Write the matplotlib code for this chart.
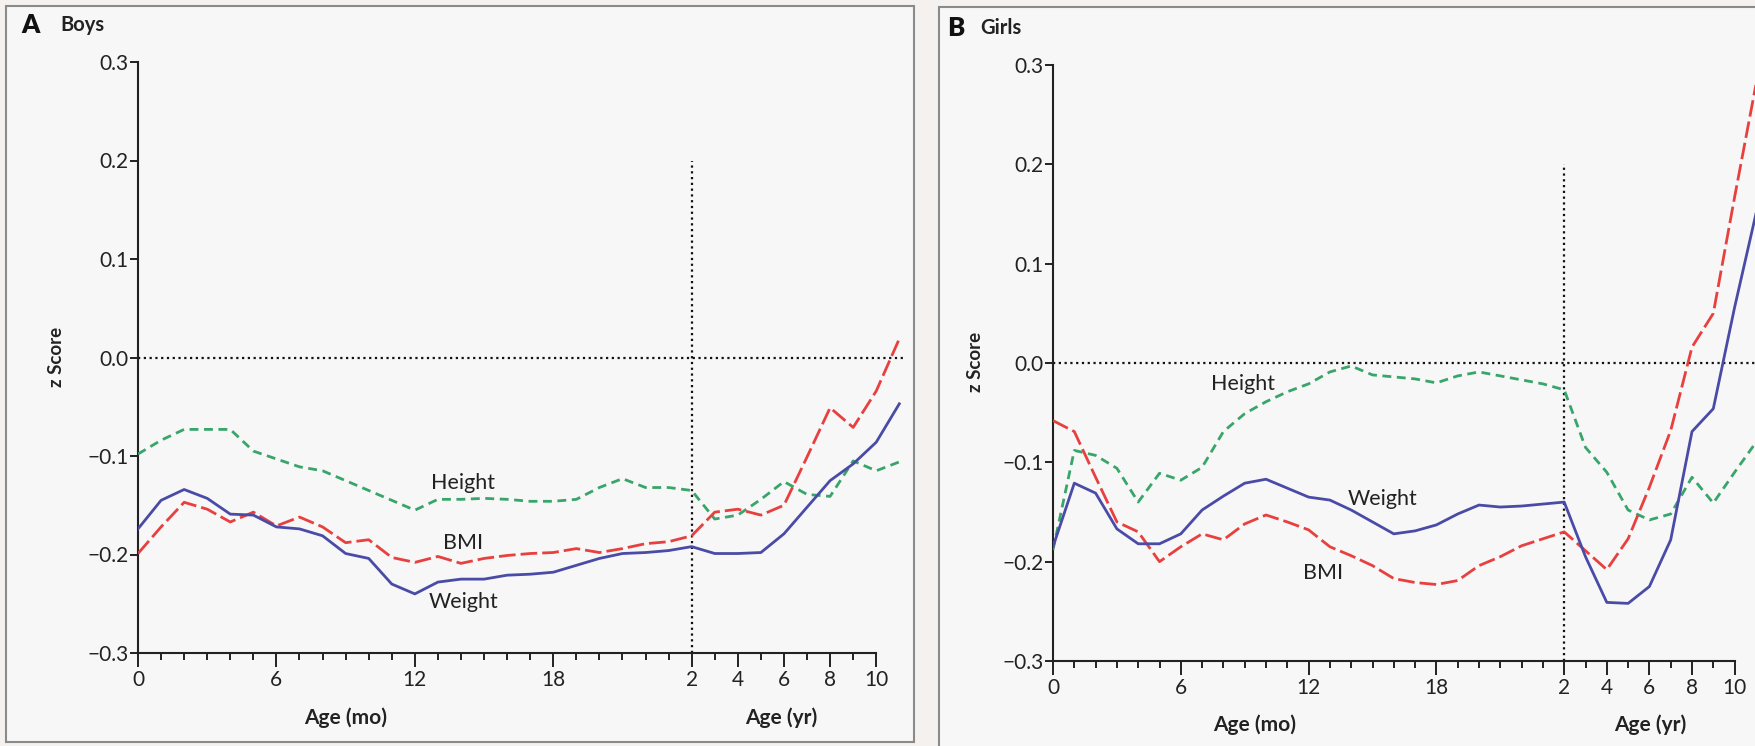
import matplotlib
matplotlib.use("Agg")
import matplotlib.pyplot as plt
from matplotlib.patches import Rectangle

plt.rcParams['font.family'] = ['Lato', 'DejaVu Sans']

W, H = 1756, 746

# x runs 0..24 months, then 3..11 years, one step each
age_months = list(range(25))
age_years = list(range(3, 12))
x_pos = list(range(len(age_months) + len(age_years)))

x_major = [0, 6, 12, 18, 24, 26, 28, 30, 32]
x_labels = ['0', '6', '12', '18', '2', '4', '6', '8', '10']
y_ticks = [-0.3, -0.2, -0.1, 0.0, 0.1, 0.2, 0.3]
y_labels = ['\u22120.3', '\u22120.2', '\u22120.1', '0.0', '0.1', '0.2', '0.3']

boys_weight = [-0.174, -0.145, -0.134, -0.143, -0.159, -0.160, -0.172, -0.174, -0.181,
               -0.199, -0.204, -0.230, -0.240, -0.228, -0.225, -0.225, -0.221, -0.220,
               -0.218, -0.211, -0.204, -0.199, -0.198, -0.196, -0.192,
               -0.199, -0.199, -0.198, -0.179, -0.152, -0.125, -0.108, -0.086, -0.047]
boys_bmi = [-0.199, -0.172, -0.147, -0.154, -0.167, -0.157, -0.171, -0.162, -0.172,
            -0.188, -0.185, -0.203, -0.208, -0.202, -0.209, -0.204, -0.201, -0.199,
            -0.198, -0.194, -0.198, -0.194, -0.189, -0.187, -0.181,
            -0.157, -0.154, -0.160, -0.150, -0.101, -0.051, -0.071, -0.034, 0.019]
boys_height = [-0.098, -0.084, -0.073, -0.073, -0.073, -0.095, -0.103, -0.111, -0.115,
               -0.125, -0.135, -0.145, -0.155, -0.144, -0.144, -0.143, -0.144, -0.146,
               -0.146, -0.144, -0.132, -0.123, -0.132, -0.132, -0.135,
               -0.164, -0.160, -0.144, -0.126, -0.139, -0.141, -0.105, -0.115, -0.106]

girls_weight = [-0.185, -0.121, -0.131, -0.167, -0.182, -0.182, -0.172, -0.148, -0.134,
                -0.121, -0.117, -0.126, -0.135, -0.138, -0.148, -0.160, -0.172, -0.169,
                -0.163, -0.152, -0.143, -0.145, -0.144, -0.142, -0.140,
                -0.195, -0.241, -0.242, -0.225, -0.178, -0.069, -0.046, 0.056, 0.150]
girls_bmi = [-0.058, -0.069, -0.115, -0.160, -0.170, -0.200, -0.185, -0.172, -0.178,
             -0.162, -0.153, -0.160, -0.168, -0.185, -0.194, -0.204, -0.217, -0.221,
             -0.223, -0.219, -0.204, -0.195, -0.184, -0.177, -0.170,
             -0.189, -0.208, -0.177, -0.125, -0.068, 0.016, 0.050, 0.167, 0.280]
girls_height = [-0.188, -0.088, -0.093, -0.106, -0.140, -0.111, -0.118, -0.105, -0.069,
                -0.051, -0.039, -0.029, -0.021, -0.009, -0.003, -0.012, -0.014, -0.016,
                -0.020, -0.013, -0.009, -0.013, -0.017, -0.021, -0.027,
                -0.085, -0.110, -0.148, -0.158, -0.152, -0.115, -0.141, -0.110, -0.080]

BLUE = '#4a4ba6'
RED = '#e8403e'
GREEN = '#38a56a'
INK = '#222222'


def fx(px):
    return px / W


def fy(py):
    return 1 - py / H


fig = plt.figure(figsize=(W / 100, H / 100), dpi=100, facecolor='#f4f1ef')

# panel frames (behind the axes)
fig.patches.append(Rectangle((fx(6), fy(742)), fx(908), 736 / H, transform=fig.transFigure,
                             facecolor='#f7f7f7', edgecolor='#8a8a8a', lw=1.5, zorder=-10))
fig.patches.append(Rectangle((fx(939), fy(760)), fx(900), 753 / H, transform=fig.transFigure,
                             facecolor='#f7f7f7', edgecolor='#8a8a8a', lw=1.5, zorder=-10))


def panel(left, top, bottom, unit, xmax, weight, bmi, height, lab_pos):
    ax = fig.add_axes([fx(left), fy(bottom), fx(xmax * unit), (bottom - top) / H])
    ax.set_facecolor('none')
    ax.set_xlim(0, xmax)
    ax.set_ylim(-0.3, 0.3)
    for s in ['top', 'right']:
        ax.spines[s].set_visible(False)
    ax.spines['bottom'].set_bounds(0, 32)
    for s in ['left', 'bottom']:
        ax.spines[s].set_linewidth(1.5)
        ax.spines[s].set_color(INK)

    ax.axhline(0, color='#111111', lw=1.6, ls=(0, (1, 1.6)), zorder=1)
    ax.plot([24, 24], [-0.3, 0.2], color='#111111', lw=1.6, ls=(0, (1, 1.6)), zorder=1)

    ax.plot(x_pos, height, color=GREEN, lw=2.0, dashes=(3.2, 2.0), zorder=3)
    ax.plot(x_pos, bmi, color=RED, lw=2.0, dashes=(6.0, 1.8), zorder=3)
    ax.plot(x_pos, weight, color=BLUE, lw=2.0, zorder=4)

    ax.set_xticks(x_major)
    ax.set_xticklabels(x_labels)
    ax.set_xticks(range(33), minor=True)
    ax.set_yticks(y_ticks)
    ax.set_yticklabels(y_labels)
    ax.tick_params(axis='x', which='major', length=10, width=1.4, direction='out',
                   labelsize=15, pad=2, color=INK, labelcolor=INK)
    ax.tick_params(axis='x', which='minor', length=5, width=1.4, direction='out', color=INK)
    ax.tick_params(axis='y', length=6, width=1.4, direction='out', labelsize=15, pad=1,
                   color=INK, labelcolor=INK)

    for name, (x, y) in lab_pos.items():
        ax.text(x, y, name, fontsize=15.5, ha='center', va='center', color=INK)
    return ax


panel(138, 62, 653, 23.07, 33.3, boys_weight, boys_bmi, boys_height,
      {'Height': (14.1, -0.127), 'BMI': (14.1, -0.188), 'Weight': (14.1, -0.248)})
panel(1053, 65, 661, 21.3, 33.3, girls_weight, girls_bmi, girls_height,
      {'Height': (8.9, -0.021), 'Weight': (15.45, -0.137), 'BMI': (12.7, -0.211)})

# titles and axis titles
fig.text(fx(21), fy(25), 'A', fontsize=18.5, fontweight='heavy', va='center', color='#111111')
fig.text(fx(60), fy(25), 'Boys', fontsize=14.5, fontweight='bold', va='center', color=INK)
fig.text(fx(947), fy(28), 'B', fontsize=18.5, fontweight='heavy', va='center', color='#111111')
fig.text(fx(980), fy(28), 'Girls', fontsize=14.5, fontweight='bold', va='center', color=INK)

fig.text(fx(57), fy(357), 'z Score', fontsize=13.5, fontweight='bold', rotation=90,
         ha='center', va='center', color=INK)
fig.text(fx(976), fy(362), 'z Score', fontsize=13.5, fontweight='bold', rotation=90,
         ha='center', va='center', color=INK)
fig.text(fx(346), fy(718), 'Age (mo)', fontsize=15, fontweight='bold', ha='center',
         va='center', color=INK)
fig.text(fx(781), fy(718), 'Age (yr)', fontsize=15, fontweight='bold', ha='center',
         va='center', color=INK)
fig.text(fx(1255), fy(725), 'Age (mo)', fontsize=15, fontweight='bold', ha='center',
         va='center', color=INK)
fig.text(fx(1650), fy(725), 'Age (yr)', fontsize=15, fontweight='bold', ha='center',
         va='center', color=INK)

fig.savefig('out.png', dpi=100, facecolor=fig.get_facecolor())
